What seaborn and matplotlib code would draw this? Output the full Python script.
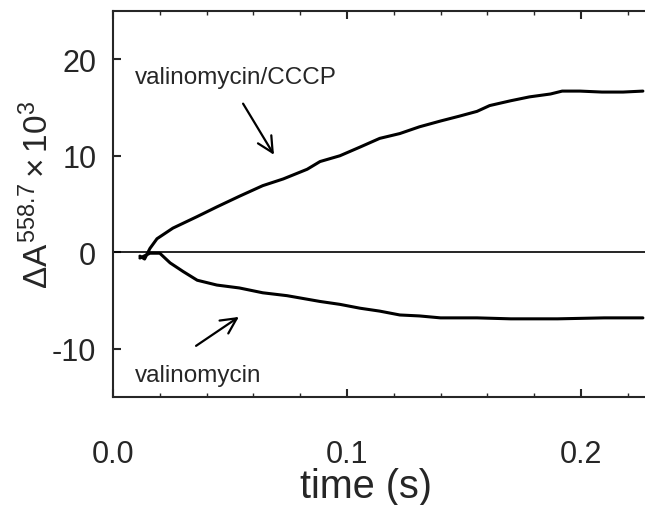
import numpy as np
import pandas as pd
import matplotlib
matplotlib.use("Agg")
import matplotlib.pyplot as plt
from matplotlib.ticker import MultipleLocator
import seaborn as sns

# values
t_cccp = [0.0115, 0.0135, 0.0158, 0.0188, 0.0256, 0.036, 0.0444, 0.054, 0.064,
          0.0728, 0.083, 0.0885, 0.097, 0.1056, 0.114, 0.1226, 0.131, 0.140,
          0.148, 0.1556, 0.161, 0.170, 0.178, 0.187, 0.192, 0.1996, 0.209,
          0.218, 0.2265]
dA_cccp = [-0.4, -0.7, 0.4, 1.4, 2.5, 3.7, 4.7, 5.8, 6.9, 7.6, 8.6, 9.4, 10.0,
           10.9, 11.8, 12.3, 13.0, 13.6, 14.1, 14.6, 15.2, 15.7, 16.1, 16.4,
           16.7, 16.7, 16.6, 16.6, 16.7]

t_val = [0.0115, 0.0158, 0.020, 0.0244, 0.030, 0.036, 0.0444, 0.054, 0.064,
         0.0744, 0.0885, 0.097, 0.1056, 0.114, 0.1226, 0.131, 0.140, 0.148,
         0.1556, 0.170, 0.190, 0.210, 0.2265]
dA_val = [-0.6, -0.1, -0.1, -1.1, -2.0, -2.9, -3.4, -3.7, -4.2, -4.5, -5.1,
          -5.4, -5.8, -6.1, -6.5, -6.6, -6.8, -6.8, -6.8, -6.9, -6.9, -6.8, -6.8]

df = pd.concat([
    pd.DataFrame({"t": t_cccp, "dA": dA_cccp, "cond": "valinomycin/CCCP"}),
    pd.DataFrame({"t": t_val, "dA": dA_val, "cond": "valinomycin"}),
])

sns.set_style("ticks")
plt.rcParams["font.family"] = ["Liberation Sans", "DejaVu Sans"]
plt.rcParams["mathtext.fontset"] = "custom"
plt.rcParams["mathtext.rm"] = "Liberation Sans"
plt.rcParams["mathtext.it"] = "Liberation Sans"
plt.rcParams["axes.unicode_minus"] = False

fig = plt.figure(figsize=(6.45, 5.06), dpi=100)
ax = fig.add_axes([113 / 645, 1 - 398 / 506, 1 - 113 / 645, (398 - 12) / 506])

ax.axhline(0, color="black", lw=1.2, zorder=1)
sns.lineplot(data=df, x="t", y="dA", hue="cond", palette=["black", "black"],
             estimator=None, sort=True, lw=2.2, legend=False, ax=ax)

ax.set_xlim(0, 0.2274)
ax.set_ylim(-15, 25)
ax.xaxis.set_major_locator(MultipleLocator(0.1))
ax.xaxis.set_minor_locator(MultipleLocator(0.02))
ax.yaxis.set_major_locator(MultipleLocator(10))
ax.xaxis.set_major_formatter(plt.FuncFormatter(lambda v, p: f"{v:.1f}"))

ax.tick_params(axis="x", which="both", direction="in", top=True, bottom=True,
               labelsize=22, pad=30)
ax.tick_params(axis="x", which="major", length=6, width=1.5)
ax.tick_params(axis="x", which="minor", length=3, width=1.0)
ax.tick_params(axis="y", which="major", direction="in", length=6, width=1.5,
               labelsize=22, pad=12, right=False)
for s in ["left", "bottom", "top"]:
    ax.spines[s].set_linewidth(1.5)
ax.spines["right"].set_visible(False)

ax.set_xlabel("time (s)", fontsize=28.5, va="bottom")
ax.xaxis.set_label_coords((366 - 113) / 532, -0.279)
ax.set_ylabel(r"$\Delta A^{558.7} \times 10^3$", fontsize=24)
ax.yaxis.set_label_coords(-0.108, 0.526)

ax.text(0.0094, 17.5, "valinomycin/CCCP", fontsize=17.5, va="baseline")
ax.text(0.0094, -13.3, "valinomycin", fontsize=17.5, va="baseline")
ax.annotate("", xy=(0.0688, 10.1), xytext=(0.0556, 15.4),
            arrowprops=dict(arrowstyle="->", lw=1.6, color="black",
                            mutation_scale=28, shrinkA=0, shrinkB=0))
ax.annotate("", xy=(0.0538, -6.7), xytext=(0.0355, -9.7),
            arrowprops=dict(arrowstyle="->", lw=1.6, color="black",
                            mutation_scale=28, shrinkA=0, shrinkB=0))

fig.savefig("out.png", dpi=100)
